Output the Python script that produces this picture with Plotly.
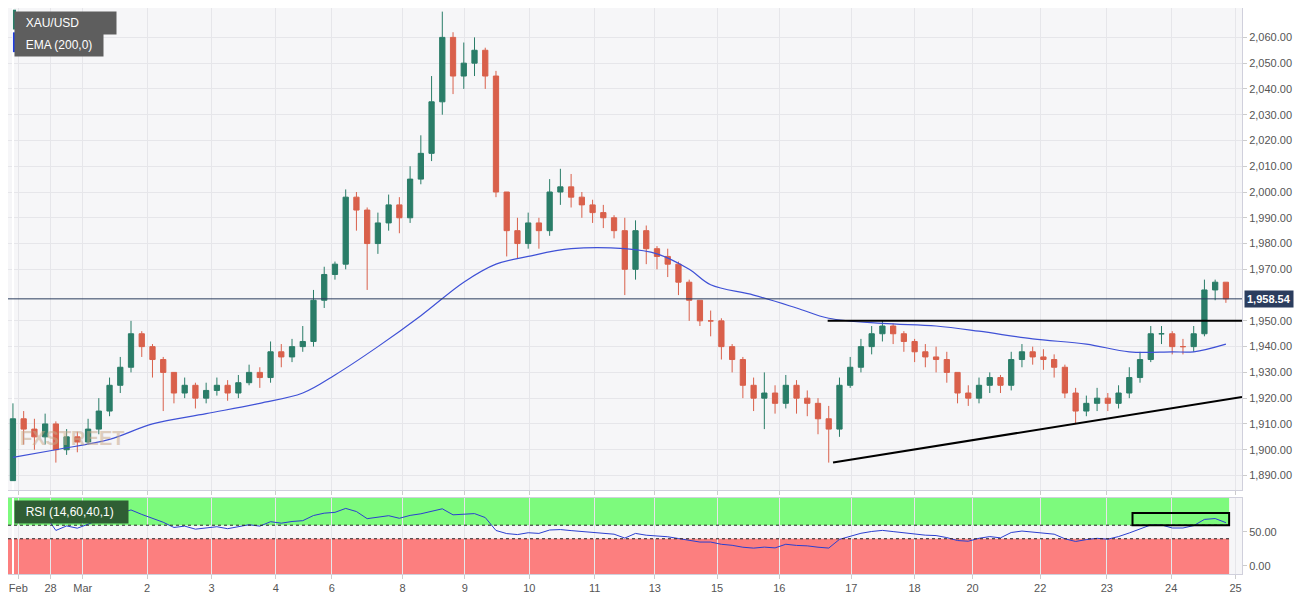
import numpy as np
import plotly.graph_objects as go
from plotly.subplots import make_subplots

# ~4-hourly candles (XAU/USD, late Feb - 24 Mar)
closes = [1912, 1908, 1905, 1910, 1900, 1905, 1903, 1908, 1915, 1925,
          1932, 1945, 1940, 1935, 1930, 1922, 1925, 1920, 1923, 1925,
          1922, 1926, 1930, 1928, 1938, 1936, 1940, 1942, 1958, 1968,
          1972, 1998, 1993, 1980, 1988, 1995, 1990, 2005, 2015, 2035,
          2060, 2045, 2050, 2055, 2045, 2000, 1985, 1980, 1988, 1985,
          2000, 2002, 1998, 1995, 1992, 1990, 1985, 1970, 1985, 1978,
          1975, 1972, 1965, 1958, 1950, 1950, 1940, 1935, 1925, 1920,
          1922, 1918, 1925, 1920, 1918, 1912, 1908, 1925, 1932, 1940,
          1945, 1948, 1945, 1942, 1938, 1936, 1935, 1930, 1922, 1920,
          1925, 1928, 1925, 1935, 1938, 1936, 1935, 1932, 1922, 1915,
          1918, 1920, 1918, 1922, 1928, 1935, 1945, 1945, 1940, 1940,
          1945, 1962, 1965, 1958.54]
highs = [1918, 1915, 1912, 1914, 1911, 1908, 1907, 1912, 1920, 1928,
         1936, 1950, 1946, 1941, 1936, 1928, 1928, 1926, 1926, 1928,
         1927, 1929, 1933, 1932, 1942, 1941, 1943, 1948, 1962, 1971,
         1973, 2001, 2000, 1994, 1992, 1999, 1998, 2010, 2022, 2045,
         2070, 2062, 2058, 2060, 2056, 2047, 2000, 1990, 1992, 1990,
         2005, 2009, 2007, 2000, 1997, 1995, 1991, 1990, 1989, 1987,
         1979, 1978, 1973, 1966, 1958, 1954, 1951, 1941, 1936, 1928,
         1930, 1925, 1929, 1927, 1923, 1920, 1917, 1928, 1936, 1943,
         1948, 1950, 1949, 1946, 1943, 1941, 1940, 1938, 1930, 1925,
         1928, 1930, 1929, 1938, 1941, 1940, 1939, 1937, 1933, 1924,
         1921, 1924, 1922, 1925, 1932, 1938, 1948, 1948, 1946, 1943,
         1948, 1966, 1966, 1965]
lows = [1888, 1902, 1900, 1902, 1895, 1898, 1899, 1902, 1906, 1913,
        1922, 1930, 1936, 1928, 1915, 1918, 1920, 1916, 1918, 1921,
        1919, 1920, 1925, 1924, 1926, 1932, 1934, 1938, 1940, 1955,
        1966, 1970, 1985, 1962, 1976, 1985, 1984, 1988, 2003, 2012,
        2030, 2038, 2040, 2045, 2040, 1998, 1975, 1974, 1978, 1978,
        1983, 1995, 1994, 1990, 1988, 1986, 1982, 1960, 1966, 1972,
        1970, 1967, 1960, 1950, 1948, 1944, 1935, 1930, 1920, 1915,
        1908, 1914, 1916, 1914, 1913, 1906, 1895, 1905, 1924, 1930,
        1937, 1942, 1941, 1938, 1934, 1932, 1930, 1926, 1918, 1917,
        1918, 1922, 1922, 1923, 1932, 1933, 1931, 1928, 1920, 1910,
        1913, 1915, 1915, 1916, 1920, 1926, 1934, 1941, 1937, 1937,
        1938, 1944, 1958, 1957]
opens = [1888] + closes[:-1]

# EMA(200,0) as drawn on the hourly chart, sampled at candle positions
ema_x = [0, 4, 9, 13, 18, 23, 27, 30, 34, 38, 42, 45, 48, 52, 57, 60, 63,
         65, 69, 73, 76, 81, 86, 90, 95, 100, 104, 108, 110, 113]
ema_y = [1897, 1900, 1904, 1910, 1914, 1918, 1922, 1929, 1940, 1952, 1965,
         1972, 1975, 1978, 1978, 1976, 1970, 1964, 1960, 1955, 1951, 1949,
         1948, 1946, 1943, 1941, 1938, 1938, 1938, 1941]

tick_pos = [0.5, 3.5, 6.5, 12.5, 18.5, 24.5, 29.7, 36.3, 42.1, 48.1, 54.2,
            59.8, 65.6, 71.4, 78.1, 84.0, 89.4, 95.7, 101.9, 107.9, 113.9]
tick_text = ["Feb", "28", "Mar", "2", "3", "4", "6", "8", "9", "10", "11",
             "13", "15", "16", "17", "18", "20", "22", "23", "24", "25"]
# 1,960 is covered by the last-price tag in the reference
price_ticks = [1890, 1900, 1910, 1920, 1930, 1940, 1950, 1970, 1980, 1990,
               2000, 2010, 2020, 2030, 2040, 2050, 2060]

last_price = 1958.54
resistance = 1950
trend_start = (76.4, 1895)
trend_end = (114.5, 1920.5)


def rsi(values, period=14):
    values = np.asarray(values, dtype=float)
    delta = np.diff(values)
    gain = np.clip(delta, 0, None)
    loss = np.clip(-delta, 0, None)
    avg_g, avg_l = gain[:period].mean(), loss[:period].mean()
    out = [np.nan] * (period + 1)
    for g, l in zip(gain[period:], loss[period:]):
        avg_g = (avg_g * (period - 1) + g) / period
        avg_l = (avg_l * (period - 1) + l) / period
        out.append(100 - 100 / (1 + avg_g / avg_l) if avg_l else 100)
    return out[: len(values)]


idx = list(range(len(closes)))
rsi_vals = rsi([1895] * 14 + closes)[14:]
x0, x1 = -0.46, 114.5

fig = make_subplots(rows=2, cols=1, shared_xaxes=True, vertical_spacing=0.014,
                    row_heights=[0.864, 0.136])
fig.add_trace(go.Candlestick(
    x=idx, open=opens, high=highs, low=lows, close=closes,
    increasing=dict(line=dict(color="#2a7d68", width=1), fillcolor="#2a7d68"),
    decreasing=dict(line=dict(color="#d9604b", width=1), fillcolor="#d9604b"),
    whiskerwidth=0, showlegend=False), row=1, col=1)
fig.add_trace(go.Scatter(x=ema_x, y=ema_y, mode="lines", line=dict(color="#3f51d6", width=1.2),
                         line_shape="spline", showlegend=False), row=1, col=1)
fig.add_trace(go.Scatter(x=idx, y=rsi_vals, mode="lines", line=dict(color="#2b3fd0", width=1),
                         showlegend=False), row=2, col=1)

# RSI zones
for lo, hi, col in [(60, 100, "#7dfa7d"), (-12, 40, "#fc7f7f")]:
    fig.add_shape(type="rect", xref="x2", yref="y2", x0=x0, x1=113.3, y0=lo, y1=hi,
                  fillcolor=col, line_width=0, layer="below")
for lvl in (40, 60):
    fig.add_shape(type="line", xref="x2", yref="y2", x0=x0, x1=113.3, y0=lvl, y1=lvl,
                  line=dict(color="#222", width=1, dash="dot"))
fig.add_shape(type="rect", xref="x2", yref="y2", x0=104.3, x1=113.3, y0=60, y1=78,
              line=dict(color="black", width=2))

# price lines
fig.add_shape(type="line", xref="x", yref="y", x0=x0, x1=x1, y0=last_price, y1=last_price,
              line=dict(color="#2b3d5e", width=1))
fig.add_shape(type="line", xref="x", yref="y", x0=75.9, x1=x1, y0=resistance, y1=resistance,
              line=dict(color="black", width=2))
fig.add_shape(type="line", xref="x", yref="y", x0=trend_start[0], x1=trend_end[0],
              y0=trend_start[1], y1=trend_end[1], line=dict(color="black", width=2))

ann = dict(xref="paper", yref="paper", showarrow=False, xanchor="left",
           font=dict(family="Arial", size=12, color="white"), borderpad=4)
fig.add_annotation(x=0.005, y=0.995, yanchor="top", text="  XAU/USD          ", bgcolor="#5e5e5e", **ann)
fig.add_annotation(x=0.005, y=0.955, yanchor="top", text="  EMA (200,0)  ", bgcolor="#5e5e5e", **ann)
fig.add_annotation(x=0.005, y=0.13, yanchor="top", text="  RSI (14,60,40,1)   ", bgcolor="#2f5e34", **ann)
fig.add_shape(type="rect", xref="paper", yref="paper", x0=0.004, x1=0.0065, y0=0.962, y1=0.997,
              fillcolor="#2a7d68", line_width=0)
fig.add_shape(type="rect", xref="paper", yref="paper", x0=0.004, x1=0.0065, y0=0.922, y1=0.957,
              fillcolor="#1e3ce0", line_width=0)
fig.add_annotation(x=0.008, y=0.24, yanchor="middle", text="<b>FXSTREET</b>",
                   font=dict(family="Arial", size=20, color="rgba(200,170,140,0.55)"),
                   xref="paper", yref="paper", showarrow=False, xanchor="left")
fig.add_annotation(x=1.002, y=last_price, xref="paper", yref="y", xanchor="left", showarrow=False,
                   text=f"<b>{last_price:,.2f}</b>", bgcolor="#2b3d5e",
                   font=dict(family="Arial", size=11, color="white"), borderpad=2)

grid = "#e6e6ea"
fig.update_xaxes(range=[x0, x1], showgrid=True, gridcolor=grid, tickvals=tick_pos,
                 ticktext=tick_text, showline=True, linecolor="#d0d0dc", mirror=True,
                 rangeslider_visible=False, tickfont=dict(family="Arial", size=11, color="#555"),
                 ticks="outside", ticklen=4, tickcolor="#ccc")
fig.update_yaxes(side="right", showline=True, linecolor="#d0d0dc", mirror=True,
                 tickfont=dict(family="Arial", size=11, color="#555"), ticks="outside",
                 ticklen=4, tickcolor="#ccc", zeroline=False)
fig.update_yaxes(range=[1884.3, 2071.4], tickvals=price_ticks, tickformat=",.2f",
                 gridcolor=grid, row=1, col=1)
fig.update_yaxes(range=[-12, 100], tickvals=[0, 50], tickformat=".2f", showgrid=False, row=2, col=1)
fig.update_layout(width=1307, height=586, margin=dict(l=0, r=73, t=0, b=20, autoexpand=False),
                  plot_bgcolor="#f6f6f8", paper_bgcolor="white", showlegend=False)
fig.write_html("out.html")
